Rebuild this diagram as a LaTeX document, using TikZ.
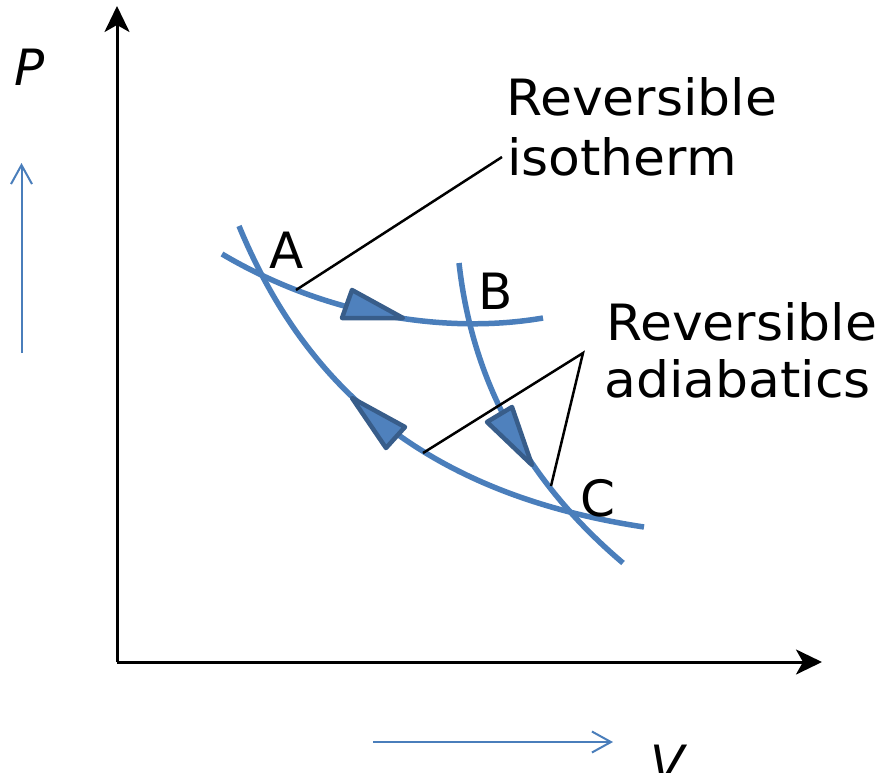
\documentclass[tikz,border=0pt]{standalone}
\usepackage{fontspec}
\setmainfont{DejaVu Sans}
\usetikzlibrary{arrows.meta}
\definecolor{curveblue}{RGB}{74,126,187}
\definecolor{trifill}{RGB}{79,129,189}
\definecolor{tridraw}{RGB}{56,93,138}
\newcommand{\wide}[1]{\scalebox{1.04}[1]{#1}}
\begin{document}
\begin{tikzpicture}[x=1pt,y=-1pt,
  axis/.style={line width=3pt,-{Stealth[length=26pt,width=25pt,inset=7pt]}},
  bluearrow/.style={draw=curveblue,line width=2pt,-{Straight Barb[length=19pt,width=21pt,line width=2pt]}},
  curve/.style={draw=curveblue,line width=5.5pt},
  tri/.style={fill=trifill,draw=tridraw,line width=4.5pt,line join=round},
  leader/.style={draw=black,line width=2.5pt},
  lbl/.style={inner sep=0pt,anchor=base west,font=\fontsize{50}{60}\selectfont},
  pt/.style={inner sep=0pt,anchor=base,font=\fontsize{50}{60}\selectfont}]
\useasboundingbox (0,0) rectangle (881,772);
% axes
\coordinate (O) at (117,662);
\coordinate (ytop) at (117,6);
\coordinate (xend) at (822,662);
\draw[axis] (O) -- (ytop);
\draw[axis] (O) -- (xend);
\node[pt,font=\fontsize{50}{60}\selectfont\itshape] (P) at (30,85) {P};
\node[pt,font=\fontsize{50}{60}\selectfont\itshape] (V) at (668,781) {V};
% blue direction arrows
\coordinate (pa1) at (21.5,353);
\coordinate (pa2) at (21.5,163);
\draw[bluearrow] (pa1) -- (pa2);
\coordinate (va1) at (373,742);
\coordinate (va2) at (613,742);
\draw[bluearrow] (va1) -- (va2);
% curves
\coordinate (i1) at (222,254);
\coordinate (i2) at (543,318);
\draw[curve] (i1) .. controls (330,318) and (450,334) .. (i2);
\coordinate (l1) at (239,226);
\coordinate (l2) at (644,527);
\draw[curve] (l1) .. controls (306,388) and (426,494) .. (l2);
\coordinate (b1) at (459,263);
\coordinate (b2) at (623,563);
\draw[curve] (b1) .. controls (472,380) and (525,480) .. (b2);
% leaders
\coordinate (isoP) at (296,290);
\coordinate (isoL) at (502,157);
\coordinate (apex) at (583,353);
\coordinate (ad1) at (423,453);
\coordinate (ad2) at (551,486);
\draw[leader] (isoP) -- (isoL);
\draw[leader] (ad1) -- (apex) -- (ad2);
% triangles
\draw[tri] (352,290) -- (403,318) -- (342,318) -- cycle;
\draw[tri] (352,398) -- (405,427) -- (386,448) -- cycle;
\draw[tri] (487,422) -- (512,407) -- (532,465) -- cycle;
% labels
\node[lbl] (rev1) at (506,115) {\wide{Reversible}};
\node[lbl] (iso) at (507,175) {\wide{isotherm}};
\node[lbl] (rev2) at (606,340) {\wide{Reversible}};
\node[lbl] (adi) at (604,397) {\wide{adiabatics}};
\node[pt] (A) at (287,268) {A};
\node[pt] (B) at (496,309) {B};
\node[pt] (C) at (598,516) {C};
\end{tikzpicture}
\end{document}
